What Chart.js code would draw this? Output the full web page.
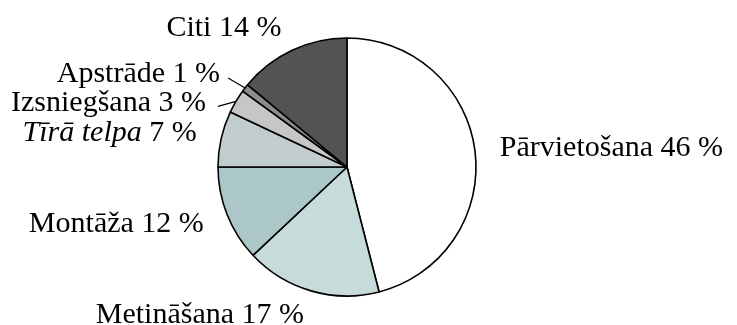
<!DOCTYPE html>
<html>
<head>
<meta charset="utf-8">
<script src="https://cdn.jsdelivr.net/npm/chart.js@4/dist/chart.umd.min.js"></script>
<style>
  html, body { margin: 0; padding: 0; background: #fff; }
  #wrap { width: 737px; height: 325px; }
</style>
</head>
<body>
<div id="wrap"><canvas id="pie"></canvas></div>
<script>
// slices, clockwise from 12 o'clock
const categories = ['Pārvietošana', 'Metināšana', 'Montāža', 'Tīrā telpa', 'Izsniegšana', 'Apstrāde', 'Citi'];
const shares = [46, 17, 12, 7, 3, 1, 14];
const italicNames = ['Tīrā telpa'];

const sliceColors = ['#ffffff', '#c7dcda', '#abc7c8', '#c1cccc', '#c6c6c6', '#8c8c8c', '#535353'];
const FONT = '"Liberation Serif", "DejaVu Serif", serif';
const FONT_SIZE = 30;
const LABEL_GAP = 25;

// small slices get a leader line; offsets are from the slice edge
const leaders = {
  'Apstrāde': { dx: -17, dy: -10, gap: 8, ty: -4 },
  'Izsniegšana': { dx: -18, dy: 5, gap: 12, ty: -3 }
};

const pieLabels = {
  id: 'pieLabels',
  afterDraw(chart) {
    const ctx = chart.ctx;
    const arcs = chart.getDatasetMeta(0).data;
    ctx.save();
    ctx.textBaseline = 'middle';
    ctx.fillStyle = '#000';
    ctx.strokeStyle = '#000';
    ctx.lineWidth = 1.2;

    arcs.forEach((arc, i) => {
      const name = categories[i];
      const { x, y, outerRadius, startAngle, endAngle } = arc.getProps(['x', 'y', 'outerRadius', 'startAngle', 'endAngle'], true);
      const mid = (startAngle + endAngle) / 2;
      const cos = Math.cos(mid), sin = Math.sin(mid);
      let lx, ly;
      const lead = leaders[name];
      if (lead) {
        const ex = x + cos * outerRadius, ey = y + sin * outerRadius;
        ctx.beginPath();
        ctx.moveTo(ex, ey);
        ctx.lineTo(ex + lead.dx, ey + lead.dy);
        ctx.stroke();
        lx = ex + lead.dx - lead.gap;
        ly = ey + lead.dy + lead.ty;
      } else {
        const r = outerRadius + LABEL_GAP;
        lx = x + cos * r;
        ly = y + sin * r;
      }

      const nameFont = (italicNames.includes(name) ? 'italic ' : '') + FONT_SIZE + 'px ' + FONT;
      const restFont = FONT_SIZE + 'px ' + FONT;
      const rest = ' ' + shares[i] + ' %';
      ctx.font = nameFont;
      const w1 = ctx.measureText(name).width;
      ctx.font = restFont;
      const w2 = ctx.measureText(rest).width;
      const total = w1 + w2;

      let left = lx;
      if (cos < -0.05) left = lx - total;
      else if (Math.abs(cos) <= 0.05) left = lx - total / 2;

      ctx.textAlign = 'left';
      ctx.font = nameFont;
      ctx.fillText(name, left, ly);
      ctx.font = restFont;
      ctx.fillText(rest, left + w1, ly);
    });
    ctx.restore();
  }
};

new Chart(document.getElementById('pie'), {
  type: 'pie',
  data: {
    labels: categories,
    datasets: [{
      data: shares,
      backgroundColor: sliceColors,
      borderColor: '#000',
      borderWidth: 1.6
    }]
  },
  options: {
    responsive: true,
    maintainAspectRatio: false,
    animation: false,
    radius: 129,
    layout: { padding: { left: 0, right: 43, top: 9, bottom: 0 } },
    plugins: {
      legend: { display: false },
      tooltip: { enabled: false }
    }
  },
  plugins: [pieLabels]
});
</script>
</body>
</html>
